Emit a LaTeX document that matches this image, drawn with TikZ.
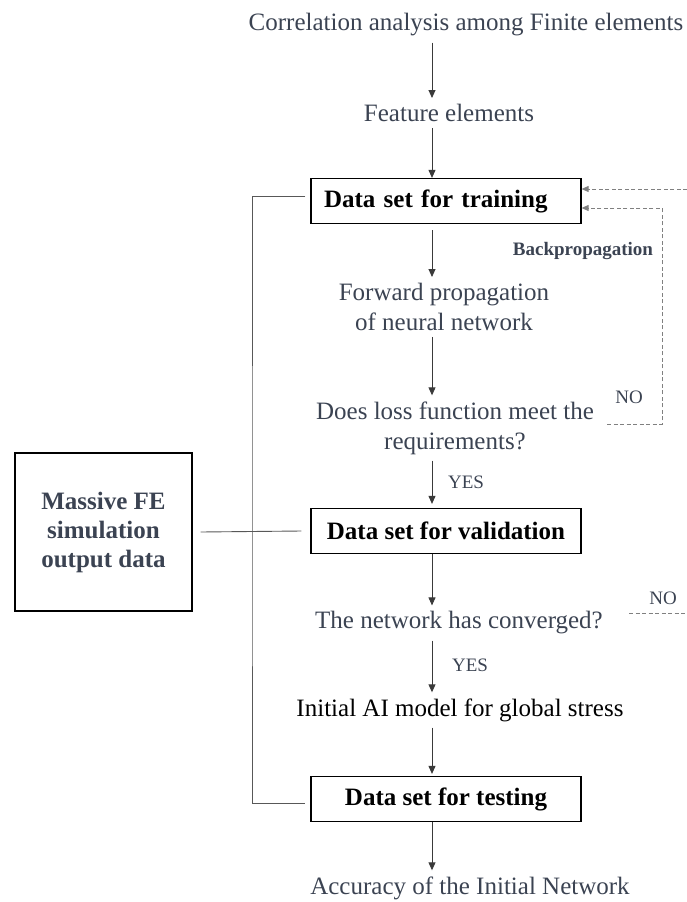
\documentclass[tikz,border=0pt]{standalone}
\usepackage{fontspec}
\setmainfont{Liberation Serif}
\usepackage{tikz}
\usetikzlibrary{positioning}
\usetikzlibrary{calc,arrows.meta}
\definecolor{slate}{HTML}{3B4352}
\definecolor{wire}{HTML}{3A3A3A}
\tikzset{
  stepnode/.style = {align=center, inner sep=6pt, text=slate,
    font=\fontsize{25}{30}\selectfont},% plain step text
  databox/.style = {draw=black, line width=1.2pt, inner sep=2pt,
    minimum width=270pt, minimum height=45pt,
    font=\bfseries\fontsize{25}{30}\selectfont},% data set box
  srcbox/.style = {draw=black, line width=1.2pt, align=center,
    minimum width=177pt, minimum height=158pt, text=slate,
    font=\bfseries\fontsize{25}{29}\selectfont},% source box
  tag/.style = {inner sep=0pt, text=slate,
    font=\fontsize{19}{22}\selectfont},% yes / no
  flow/.style = {draw=wire, line width=0.9pt,
    -{Triangle[length=8pt,width=7pt]}},
  link/.style = {draw=wire!85, line width=0.9pt},
  back/.style = {draw=gray, line width=0.9pt, dashed,
    dash pattern=on 4pt off 2.5pt}
}
\begin{document}
\begin{tikzpicture}[x=1pt,y=-1pt]
\useasboundingbox (0,0) rectangle (687,902);
\coordinate (spine) at (432,0);

% main column
\node [stepnode] (corr) at (466,25) {Correlation analysis among Finite elements};
\node [stepnode] (feat) at (449,113) {Feature elements};
\node [databox, align=left, text width=244pt, inner xsep=13pt] (train) at (446,201) {Data set for training};
\node [stepnode] (fwd) at (444,307) {Forward propagation\\of neural network};
\node [stepnode] (loss) at (455,428) {Does loss function meet the\\requirements?};
\node [databox] (val) at (446,531) {Data set for validation};
\node [stepnode] (conv) at (459,623) {The network has converged?};
\node [stepnode, text=black] (init) at (460,710) {Initial AI model for global stress};
\node [databox] (test) at (446,799) {Data set for testing};
\node [stepnode] (acc) at (470,888) {Accuracy of the Initial Network};

% source of the data sets
\node [srcbox] (massive) at (103.5,532) {Massive FE\\simulation\\output data};

% labels
\node [tag, font=\bfseries\fontsize{19}{22}\selectfont] (bp) at (583,251) {Backpropagation};
\node [tag] (yes1) at (466,482) {YES};
\node [tag] (yes2) at (470,665) {YES};
\node [tag] (no1) at (629,397) {NO};
\node [tag] (no2) at (663,598) {NO};

% arrows down the column
\draw [flow] (corr.south -| spine) -- (feat.north -| spine);
\draw [flow] (feat.south -| spine) -- (train.north -| spine);
\draw [flow] ([yshift=-6pt]train.south -| spine) -- (fwd.north -| spine);
\draw [flow] (fwd.south -| spine) -- (loss.north -| spine);
\draw [flow] (loss.south -| spine) -- ([yshift=4pt]val.north -| spine);
\draw [flow] (val.south -| spine) -- (conv.north -| spine);
\draw [flow] (conv.south -| spine) -- (init.north -| spine);
\draw [flow] (init.south -| spine) -- ([yshift=2pt]test.north -| spine);
\draw [flow] (test.south -| spine) -- (acc.north -| spine);

% data split
\coordinate (bus) at (252,532);
\draw [link] ([xshift=-5pt,yshift=5pt]train.west) -| (bus)
  |- ([xshift=-5pt,yshift=-4pt]test.west);
\draw [link] ([xshift=8pt]massive.east) -- ([xshift=-9pt]val.west);

% feedback loops
\coordinate (topin) at (687,189);
\coordinate (loopc) at (662,208);
\draw [back, -{Triangle[length=7pt,width=6pt]}] (topin) -- (train.east |- topin);
\draw [back, -{Triangle[length=7pt,width=6pt]}] ([xshift=7pt,yshift=4pt]loss.east) -| (loopc)
  -- (train.east |- loopc);
\coordinate (convno) at (629,613);
\coordinate (convout) at (687,613);
\draw [back] (convno) -- (convout);
\end{tikzpicture}
\end{document}
